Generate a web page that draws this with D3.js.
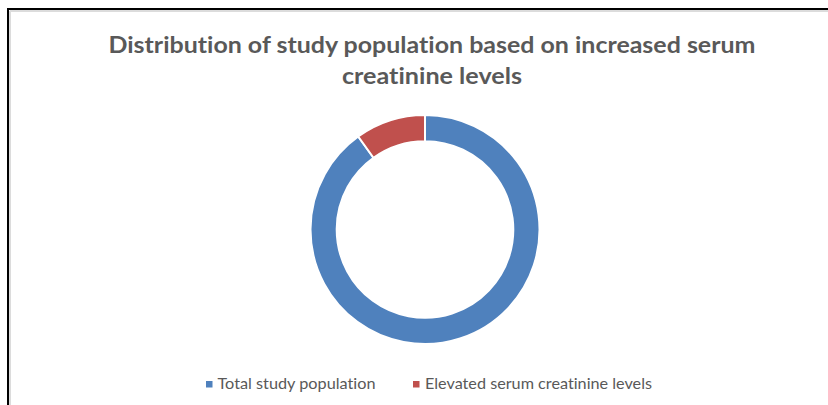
<!DOCTYPE html>
<html>
<head>
<meta charset="utf-8">
<script src="https://cdn.jsdelivr.net/npm/d3@7"></script>
<style>
  html, body { margin: 0; padding: 0; background: #ffffff; }
  svg { display: block; }
  text { font-variant-ligatures: none; font-feature-settings: "liga" 0; }
</style>
</head>
<body>
<svg id="chart" width="828" height="405"></svg>
<script>
// ---- data ----
const categories = ["Total study population", "Elevated serum creatinine levels"];
const values = [100, 11];
const colors = ["#4F81BD", "#C0504D"];
const titleLines = ["Distribution of study population based on increased serum", "creatinine levels"];

const svg = d3.select("#chart");
const W = 828, H = 405;
const textColor = "#595959";
const fontFamily = "Lato, 'Open Sans', 'DejaVu Sans', sans-serif";

// frame (black top/left edges with a light inner shadow)
svg.append("rect").attr("x", 0).attr("y", 0).attr("width", W).attr("height", H).attr("fill", "#ffffff");
svg.append("line").attr("x1", 10).attr("y1", 11).attr("x2", W).attr("y2", 11)
  .attr("stroke", "#dcdcdc").attr("stroke-width", 2);
svg.append("line").attr("x1", 10).attr("y1", 11).attr("x2", 10).attr("y2", H)
  .attr("stroke", "#dcdcdc").attr("stroke-width", 2);
svg.append("line").attr("x1", 7).attr("y1", 9).attr("x2", W).attr("y2", 9)
  .attr("stroke", "#000000").attr("stroke-width", 2);
svg.append("line").attr("x1", 8).attr("y1", 8).attr("x2", 8).attr("y2", H)
  .attr("stroke", "#000000").attr("stroke-width", 2);

// title
const titleX = 432;
const titleBaselines = [53, 84];
const titleWidths = [647, 180];
titleLines.forEach((t, i) => {
  svg.append("text")
    .attr("x", titleX).attr("y", titleBaselines[i])
    .attr("text-anchor", "middle")
    .attr("font-family", fontFamily)
    .attr("font-weight", "bold")
    .attr("font-size", 23)
    .attr("fill", textColor)
    .attr("textLength", titleWidths[i])
    .attr("lengthAdjust", "spacingAndGlyphs")
    .text(t);
});

// donut
const cx = 425, cy = 229.5, rOuter = 114.5, rInner = 88.3;
const pie = d3.pie().sort(null).value(d => d)(values);
const arc = d3.arc().innerRadius(rInner).outerRadius(rOuter);
const g = svg.append("g").attr("transform", `translate(${cx},${cy})`);
g.selectAll("path").data(pie).join("path")
  .attr("d", arc)
  .attr("fill", (d, i) => colors[i])
  .attr("stroke", "#ffffff")
  .attr("stroke-width", 2);

// legend
const legendItems = [
  { sx: 206, tx: 217.5, w: 158 },
  { sx: 413, tx: 425, w: 227 }
];
const lg = svg.append("g");
categories.forEach((c, i) => {
  const it = legendItems[i];
  lg.append("rect").attr("x", it.sx).attr("y", 381).attr("width", 6.5).attr("height", 6.5)
    .attr("fill", colors[i]);
  lg.append("text").attr("x", it.tx).attr("y", 388.5)
    .attr("font-family", fontFamily)
    .attr("font-size", 15)
    .attr("fill", textColor)
    .attr("textLength", it.w)
    .attr("lengthAdjust", "spacingAndGlyphs")
    .text(c);
});
</script>
</body>
</html>
